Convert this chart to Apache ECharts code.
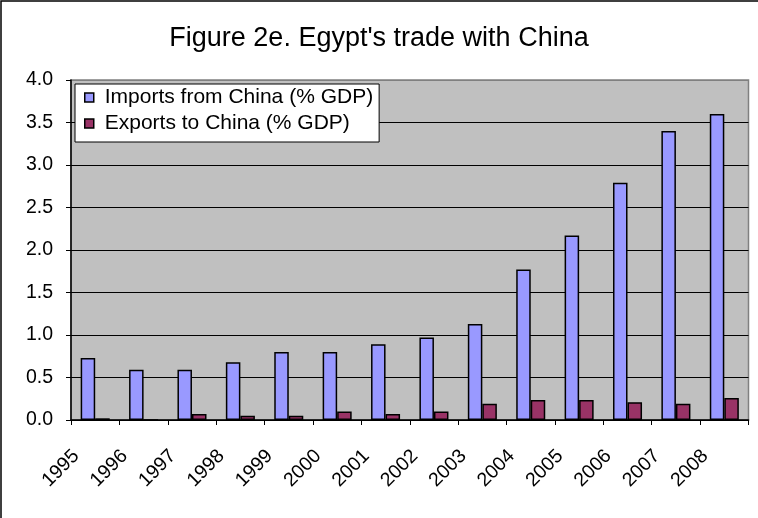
<!DOCTYPE html>
<html>
<head>
<meta charset="utf-8">
<script src="https://cdn.jsdelivr.net/npm/echarts@6/dist/echarts.min.js"></script>
<style>
  html, body { margin: 0; padding: 0; background: #fff; }
  #chart { width: 758px; height: 518px; }
</style>
</head>
<body>
<div id="chart"></div>
<script>
// 年份
const years = ['1995', '1996', '1997', '1998', '1999', '2000', '2001',
  '2002', '2003', '2004', '2005', '2006', '2007', '2008']
// 从中国进口 (% GDP)
const imports = [0.73, 0.59, 0.59, 0.68, 0.80, 0.80, 0.89,
  0.97, 1.13, 1.77, 2.17, 2.79, 3.40, 3.60]
// 对中国出口 (% GDP)
const exports = [0.02, 0.00, 0.07, 0.05, 0.05, 0.10, 0.07,
  0.10, 0.19, 0.235, 0.235, 0.21, 0.19, 0.26]

const font = 'Liberation Sans, Arial, sans-serif'
const chart = echarts.init(document.getElementById('chart'))

const option = {
  backgroundColor: '#fff',
  animation: false,
  title: {
    text: "Figure 2e. Egypt's trade with China",
    left: 'center',
    top: 20,
    textStyle: { fontFamily: font, fontSize: 27, fontWeight: 'normal', color: '#000' }
  },
  // 外框
  graphic: [{
    type: 'rect',
    shape: { x: 1, y: 1, width: 900, height: 700 },
    style: { fill: 'none', stroke: '#000', lineWidth: 1.5 },
    silent: true
  }],
  legend: {
    orient: 'vertical',
    left: 75,
    top: 84,
    padding: [3, 6, 8, 9],
    itemGap: 5,
    itemWidth: 9,
    itemHeight: 9,
    icon: 'rect',
    backgroundColor: '#fff',
    borderColor: '#000',
    borderWidth: 1,
    textStyle: { fontFamily: font, fontSize: 21, color: '#000', padding: [0, 0, 0, 6] },
    itemStyle: { borderColor: '#000', borderWidth: 1.5 }
  },
  grid: {
    left: 71,
    right: 9.5,
    top: 80,
    bottom: 98,
    show: true,
    backgroundColor: '#C0C0C0',
    borderColor: '#808080',
    borderWidth: 1.5
  },
  xAxis: {
    type: 'category',
    data: years,
    axisLine: { lineStyle: { color: '#000', width: 1.5 } },
    axisTick: { show: true, length: 5, lineStyle: { color: '#000' } },
    axisLabel: {
      interval: 0,
      rotate: 45,
      margin: 14,
      padding: [0, 27, 0, 0],
      fontFamily: font,
      fontSize: 19.5,
      color: '#000'
    }
  },
  yAxis: {
    type: 'value',
    min: 0,
    max: 4,
    interval: 0.5,
    axisLine: { show: true, lineStyle: { color: '#000', width: 1.5 } },
    axisTick: { show: true, length: 5, lineStyle: { color: '#000' } },
    axisLabel: {
      margin: 18,
      fontFamily: font,
      fontSize: 19.5,
      color: '#000',
      formatter: v => v.toFixed(1)
    },
    splitLine: {
      show: true,
      lineStyle: {
        color: ['#000', '#000', '#000', '#000', '#000', '#000', '#000', '#000', '#808080'],
        width: 1.2
      }
    }
  },
  series: [
    {
      name: 'Imports from China (% GDP)',
      type: 'bar',
      data: imports,
      barGap: '0%',
      barCategoryGap: '40%',
      itemStyle: { color: '#9999FF', borderColor: '#000', borderWidth: 1.5 }
    },
    {
      name: 'Exports to China (% GDP)',
      type: 'bar',
      data: exports,
      itemStyle: { color: '#993366', borderColor: '#000', borderWidth: 1.5 }
    }
  ]
}

chart.setOption(option)
</script>
</body>
</html>
